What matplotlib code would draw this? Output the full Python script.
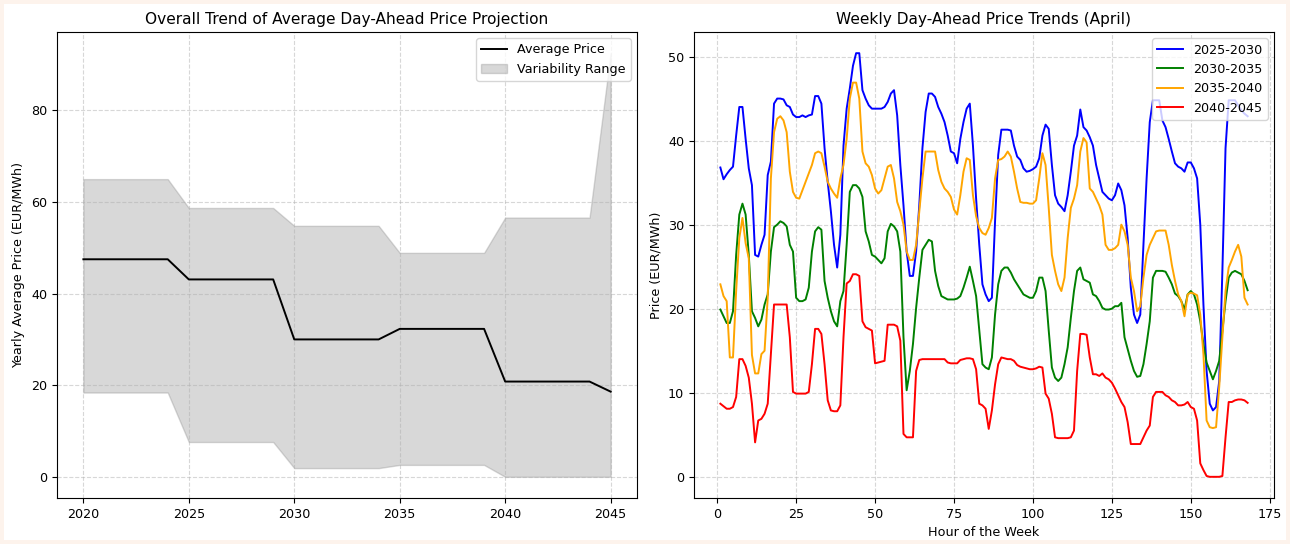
import numpy as np
import matplotlib
matplotlib.use("Agg")
import matplotlib.pyplot as plt
from matplotlib.patches import Rectangle

# ---- Left panel data ----
years = list(range(2020, 2046))
avg_price = [47.5]*5 + [43.1]*5 + [30.0]*5 + [32.3]*5 + [20.8]*5 + [18.6]
upper_price = [65.0]*5 + [58.7]*5 + [54.8]*5 + [48.9]*5 + [56.6]*5 + [92.5]
lower_price = [18.4]*5 + [7.6]*5 + [1.9]*5 + [2.6]*5 + [0.0]*5 + [0.0]

# ---- Right panel data (hours 1..168) ----
hours = list(range(1, 169))

s_2025_2030 = [
    36.8, 35.4, 36.0, 36.5, 36.9, 40.6, 44.0, 44.0, 40.2, 36.7,
    34.7, 26.4, 26.2, 27.6, 28.8, 35.9, 37.5, 44.4, 45.0, 45.0,
    44.9, 44.2, 44.0, 43.1, 42.8, 42.8, 43.0, 42.8, 43.0, 43.1,
    45.3, 45.3, 44.4, 39.1, 35.1, 31.6, 27.6, 24.9, 28.8, 39.4,
    43.8, 46.2, 48.9, 50.4, 50.4, 46.0, 45.0, 44.2, 43.8, 43.8,
    43.8, 43.8, 44.0, 44.6, 45.6, 46.0, 43.0, 37.1, 32.3, 26.8,
    23.9, 23.9, 26.8, 32.3, 39.1, 43.4, 45.6, 45.6, 45.2, 44.0,
    43.2, 42.2, 40.6, 38.7, 38.5, 37.3, 40.2, 42.2, 43.8, 44.4,
    39.4, 33.1, 27.6, 22.9, 21.7, 20.9, 21.3, 30.4, 38.3, 41.3,
    41.3, 41.3, 41.2, 39.4, 38.1, 37.7, 36.7, 36.3, 36.4, 36.6,
    36.9, 37.9, 40.6, 41.9, 41.4, 37.1, 33.5, 32.5, 32.1, 31.6,
    33.5, 36.3, 39.4, 40.6, 43.7, 41.6, 41.2, 40.4, 39.4, 37.1,
    35.5, 33.9, 33.5, 33.1, 32.9, 33.5, 34.9, 34.1, 32.3, 28.4,
    22.5, 19.3, 18.3, 19.3, 27.6, 35.5, 42.2, 44.8, 44.8, 44.8,
    42.4, 41.6, 40.2, 38.7, 37.3, 36.9, 36.7, 36.3, 37.4, 37.4,
    36.7, 35.5, 30.0, 20.5, 12.6, 8.7, 7.9, 8.3, 11.4, 24.5,
    39.1, 44.8, 44.8, 44.8, 44.2, 43.6, 43.2, 42.9,
]

s_2030_2035 = [
    19.9, 19.1, 18.3, 18.3, 19.7, 26.4, 31.2, 32.5, 31.2, 26.4,
    19.7, 18.9, 17.9, 18.7, 20.5, 21.7, 26.8, 29.7, 30.0, 30.4,
    30.2, 29.8, 27.6, 26.8, 21.3, 20.9, 20.9, 21.1, 22.5, 26.8,
    29.2, 29.7, 29.4, 23.3, 21.3, 19.7, 18.5, 17.9, 20.9, 22.1,
    27.6, 33.9, 34.7, 34.7, 34.3, 33.3, 29.2, 28.0, 26.4, 26.2,
    25.8, 25.4, 26.0, 29.2, 30.1, 29.8, 29.2, 26.8, 16.6, 10.3,
    12.6, 15.8, 20.1, 23.7, 27.0, 27.6, 28.2, 28.0, 24.5, 22.7,
    21.5, 21.3, 21.1, 21.1, 21.1, 21.2, 21.5, 22.5, 23.7, 25.0,
    23.3, 21.5, 17.4, 13.4, 13.0, 12.8, 14.2, 19.3, 22.9, 24.5,
    24.9, 24.9, 24.3, 23.5, 22.9, 22.3, 21.7, 21.5, 21.3, 21.3,
    22.1, 23.7, 23.7, 22.1, 17.4, 13.0, 11.8, 11.4, 11.8, 13.4,
    15.4, 18.9, 22.1, 24.5, 24.9, 23.5, 23.3, 23.1, 21.7, 21.5,
    20.9, 20.1, 19.9, 19.9, 20.0, 20.3, 20.3, 20.7, 16.6, 15.2,
    13.8, 12.6, 11.9, 12.0, 13.4, 15.8, 18.5, 23.7, 24.5, 24.5,
    24.5, 24.4, 23.7, 22.9, 21.8, 21.5, 20.9, 19.9, 21.7, 22.1,
    21.7, 20.5, 18.5, 15.8, 13.6, 12.6, 11.6, 12.6, 13.8, 17.4,
    20.9, 23.7, 24.3, 24.5, 24.3, 24.1, 23.3, 22.2,
]

s_2035_2040 = [
    22.9, 21.5, 20.9, 14.2, 14.2, 22.1, 28.4, 30.8, 27.8, 26.0,
    14.5, 12.3, 12.3, 14.6, 15.0, 21.3, 35.5, 41.0, 42.6, 42.9,
    42.4, 41.0, 36.3, 33.9, 33.2, 33.1, 34.1, 35.1, 36.1, 37.1,
    38.5, 38.7, 38.5, 36.9, 35.1, 34.3, 33.7, 33.2, 35.5, 37.1,
    40.2, 45.0, 46.9, 46.9, 45.0, 38.7, 37.3, 36.9, 35.9, 34.3,
    33.7, 34.1, 35.5, 36.9, 37.1, 35.5, 32.7, 31.6, 30.0, 26.8,
    25.8, 25.8, 27.6, 31.6, 35.5, 38.7, 38.7, 38.7, 38.7, 36.5,
    35.1, 34.3, 33.9, 33.3, 31.8, 31.2, 33.5, 36.3, 37.9, 37.7,
    33.5, 31.0, 29.6, 29.0, 28.8, 29.6, 30.8, 35.5, 37.7, 37.8,
    38.1, 38.7, 38.1, 36.3, 34.3, 32.7, 32.6, 32.6, 32.5, 32.5,
    32.9, 35.5, 38.5, 37.1, 32.0, 26.4, 24.5, 22.9, 22.1, 23.7,
    28.4, 32.0, 33.1, 34.7, 38.7, 40.3, 39.8, 34.3, 33.9, 33.1,
    32.3, 31.2, 27.6, 27.0, 27.0, 27.2, 27.6, 30.0, 29.2, 27.6,
    23.7, 22.1, 19.7, 20.3, 23.7, 26.4, 27.6, 28.4, 29.2, 29.3,
    29.3, 29.3, 27.6, 25.2, 23.3, 21.7, 20.9, 19.1, 21.7, 21.9,
    21.8, 21.6, 19.3, 14.6, 6.7, 5.9, 5.8, 5.9, 10.7, 16.6,
    22.1, 24.9, 25.8, 26.8, 27.6, 26.2, 21.3, 20.5,
]

s_2040_2045 = [
    8.7, 8.4, 8.1, 8.1, 8.3, 9.5, 14.0, 14.0, 13.2, 11.8,
    8.7, 4.1, 6.7, 6.9, 7.5, 8.7, 14.6, 20.5, 20.5, 20.5,
    20.5, 20.5, 16.6, 10.1, 9.9, 9.9, 9.9, 9.9, 10.1, 13.4,
    17.6, 17.6, 17.0, 13.4, 9.1, 7.9, 7.8, 7.8, 8.5, 16.6,
    23.0, 23.3, 24.1, 24.1, 23.9, 18.5, 17.8, 17.6, 17.4, 13.5,
    13.6, 13.7, 13.8, 18.1, 18.1, 18.1, 17.9, 16.2, 5.1, 4.7,
    4.7, 4.7, 12.6, 13.9, 14.0, 14.0, 14.0, 14.0, 14.0, 14.0,
    14.0, 14.0, 13.6, 13.5, 13.5, 13.5, 13.9, 14.0, 14.1, 14.1,
    14.0, 12.8, 8.7, 8.5, 8.1, 5.7, 7.9, 11.0, 13.4, 14.2,
    14.1, 14.0, 14.0, 13.8, 13.3, 13.1, 13.0, 12.9, 12.8, 12.8,
    12.9, 13.1, 13.0, 9.9, 9.3, 7.5, 4.7, 4.6, 4.6, 4.6,
    4.6, 4.7, 5.5, 12.6, 17.0, 17.0, 16.9, 14.2, 12.2, 12.2,
    12.0, 12.3, 11.8, 11.6, 11.2, 10.5, 9.7, 8.9, 8.3, 6.5,
    3.9, 3.9, 3.9, 3.9, 4.7, 5.5, 6.1, 9.5, 10.1, 10.1,
    10.1, 9.7, 9.5, 9.1, 8.9, 8.5, 8.5, 8.6, 8.9, 8.3,
    8.1, 6.7, 1.6, 0.8, 0.1, 0.0, 0.0, 0.0, 0.0, 0.1,
    4.7, 8.9, 8.9, 9.1, 9.2, 9.2, 9.1, 8.8,
]

series_labels = ["2025-2030", "2030-2035", "2035-2040", "2040-2045"]
series_values = [s_2025_2030, s_2030_2035, s_2035_2040, s_2040_2045]
series_colors = ["blue", "green", "orange", "red"]

plt.rcParams["font.size"] = 9.2
plt.rcParams["axes.titlesize"] = 11.1
plt.rcParams["axes.labelsize"] = 9.2
plt.rcParams["xtick.labelsize"] = 9.2
plt.rcParams["ytick.labelsize"] = 9.2
plt.rcParams["legend.fontsize"] = 9.2
plt.rcParams["lines.linewidth"] = 1.4

fig = plt.figure(figsize=(12.9, 5.44), dpi=100)
fig.patch.set_facecolor("#fdf3ec")
fig.patches.append(Rectangle((4/1290, 4/544), 1 - 8/1290, 1 - 8/544,
                             transform=fig.transFigure, facecolor="white",
                             edgecolor="none", zorder=-10))

ax1 = fig.add_axes([57/1290, 1 - 498/544, 580/1290, 466/544])
ax2 = fig.add_axes([694/1290, 1 - 498/544, 580/1290, 466/544])

# Left panel
ax1.plot(years, avg_price, color="black", label="Average Price")
ax1.fill_between(years, lower_price, upper_price, color="gray", alpha=0.3,
                 label="Variability Range")
ax1.set_title("Overall Trend of Average Day-Ahead Price Projection")
ax1.set_ylabel("Yearly Average Price (EUR/MWh)")
ax1.grid(True, linestyle="--", alpha=0.5)
ax1.legend(loc="upper right")

# Right panel
for lab, vals, col in zip(series_labels, series_values, series_colors):
    ax2.plot(hours, vals, color=col, label=lab)
ax2.set_title("Weekly Day-Ahead Price Trends (April)")
ax2.set_xlabel("Hour of the Week")
ax2.set_ylabel("Price (EUR/MWh)")
ax2.grid(True, linestyle="--", alpha=0.5)
ax2.legend(loc="upper right")

fig.savefig("out.png", dpi=100, facecolor=fig.get_facecolor())
